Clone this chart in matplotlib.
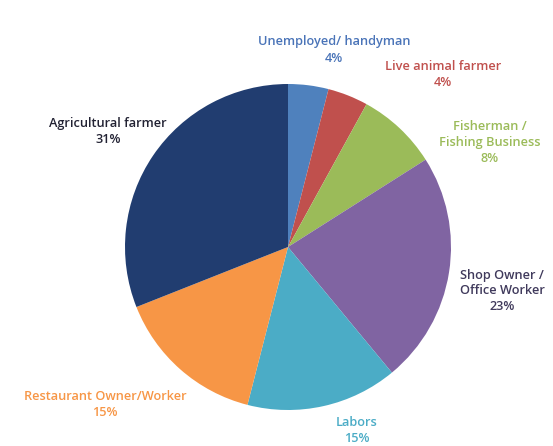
import matplotlib
matplotlib.use("Agg")
import matplotlib.pyplot as plt

categories = ["Unemployed/ handyman", "Live animal farmer", "Fisherman /\nFishing Business",
              "Shop Owner /\nOffice Worker", "Labors", "Restaurant Owner/Worker",
              "Agricultural farmer"]
values = [4, 4, 8, 23, 15, 15, 31]
pct_labels = ["4%", "4%", "8%", "23%", "15%", "15%", "31%"]

slice_colors = ["#4F81BD", "#C0504D", "#9BBB59", "#8064A2", "#4BACC6", "#F79646", "#213D70"]
label_colors = ["#4A74B8", "#C0504D", "#9BBB59", "#403A5C", "#4BACC6", "#F79646", "#222233"]
# label centres in pixel coordinates (x, y from top)
label_pos = [(334, 50), (443, 74), (490, 143), (502, 291), (357, 430), (105, 404), (108, 131)]

W, H = 553, 446
fig = plt.figure(figsize=(W / 100, H / 100), dpi=100)
cx, cy, r = 288, 247, 163
ax = fig.add_axes([(cx - r) / W, (H - cy - r) / H, 2 * r / W, 2 * r / H])
ax.pie(values, colors=slice_colors, startangle=90, counterclock=False,
       radius=1, wedgeprops=dict(linewidth=0))
ax.set_xlim(-1, 1)
ax.set_ylim(-1, 1)
ax.set_aspect("equal")
ax.axis("off")

for cat, pct, col, (x, y) in zip(categories, pct_labels, label_colors, label_pos):
    fig.text(x / W, 1 - y / H, cat + "\n" + pct, ha="center", va="center",
             color=col, fontsize=9.2, fontweight="semibold", family="Open Sans",
             linespacing=1.3)

fig.savefig("out.png", dpi=100)
